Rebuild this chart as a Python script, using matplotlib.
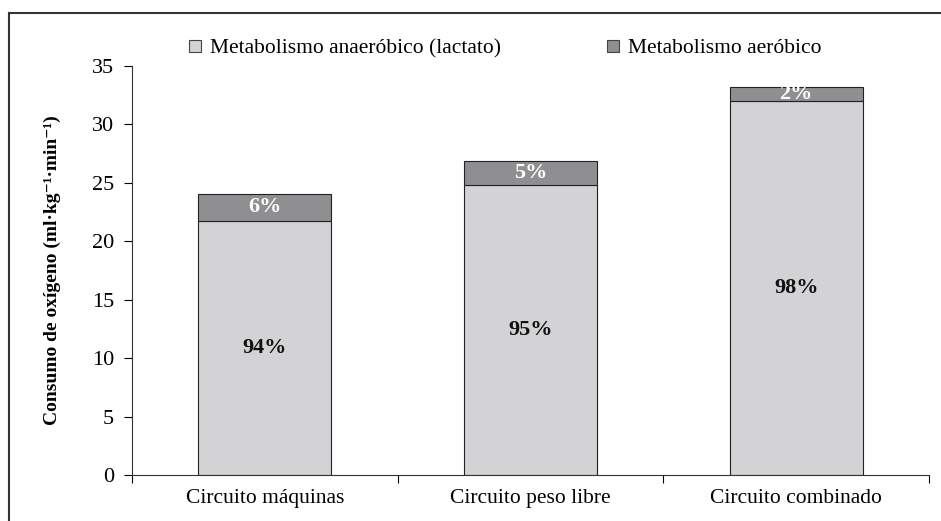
import numpy as np
import matplotlib
matplotlib.use("Agg")
import matplotlib.pyplot as plt
from matplotlib.lines import Line2D

plt.rcParams['font.family'] = ['Liberation Serif', 'DejaVu Serif']

categories = ['Circuito máquinas', 'Circuito peso libre', 'Circuito combinado']
anaerobic = [21.75, 24.8, 32.0]
aerobic = [2.3, 2.1, 1.2]
anaerobic_pct = ['94%', '95%', '98%']
aerobic_pct = ['6%', '5%', '2%']
series_names = ['Metabolismo anaeróbico (lactato)', 'Metabolismo aeróbico']

light = '#d3d3d5'
dark = '#8f8f92'

fig = plt.figure(figsize=(9.41, 5.21), dpi=100)
ax = fig.add_axes([132 / 941, 1 - 475 / 521, (929 - 132) / 941, (475 - 66) / 521])

x = np.arange(len(categories))
ax.bar(x, anaerobic, width=0.5, color=light, edgecolor='#222222', linewidth=0.8,
       label=series_names[0])
ax.bar(x, aerobic, width=0.5, bottom=anaerobic, color=dark, edgecolor='#222222',
       linewidth=0.8, label=series_names[1])

for i in range(len(categories)):
    ax.text(x[i], anaerobic[i] / 2, anaerobic_pct[i], ha='center', va='center',
            fontsize=16, fontweight='bold', color='#111111')
    ax.text(x[i], anaerobic[i] + aerobic[i] / 2, aerobic_pct[i], ha='center', va='center',
            fontsize=16, fontweight='bold', color='white')

ax.set_xlim(-0.5, 2.5)
ax.set_ylim(0, 35)
ax.set_yticks(np.arange(0, 36, 5))
ax.set_xticks([-0.5, 0.5, 1.5, 2.5])
ax.set_xticklabels([])
ax.set_xticks(x, minor=True)
ax.set_xticklabels(categories, minor=True, fontsize=15.5)
ax.tick_params(axis='x', which='minor', length=0, pad=10)
ax.tick_params(axis='x', which='major', length=6, width=0.8, direction='out')
ax.tick_params(axis='y', length=6, width=0.8, direction='out', labelsize=16, pad=7)

for s in ['top', 'right']:
    ax.spines[s].set_visible(False)
for s in ['left', 'bottom']:
    ax.spines[s].set_linewidth(0.8)
    ax.spines[s].set_color('#333333')

ax.set_ylabel('Consumo de oxígeno (ml·kg⁻¹·min⁻¹)',
              fontsize=14, fontweight='bold', labelpad=22)

handles = [Line2D([], [], marker='s', linestyle='none', markersize=8,
                  markerfacecolor=light, markeredgecolor='#444444', markeredgewidth=0.8),
           Line2D([], [], marker='s', linestyle='none', markersize=8,
                  markerfacecolor=dark, markeredgecolor='#444444', markeredgewidth=0.8)]
fig.legend(handles, series_names, loc='center', bbox_to_anchor=(503 / 941, 1 - 48 / 521),
           ncol=2, frameon=False, fontsize=15.5, handletextpad=0.2, columnspacing=4.7,
           handlelength=1.0)

# figure frame (left and top)
fig.add_artist(Line2D([8.5 / 941, 8.5 / 941], [0, 1 - 12.5 / 521], transform=fig.transFigure,
                      color='#333333', linewidth=1.5))
fig.add_artist(Line2D([8.5 / 941, 1], [1 - 12.5 / 521, 1 - 12.5 / 521], transform=fig.transFigure,
                      color='#333333', linewidth=1.5))

fig.savefig('out.png', dpi=100)
